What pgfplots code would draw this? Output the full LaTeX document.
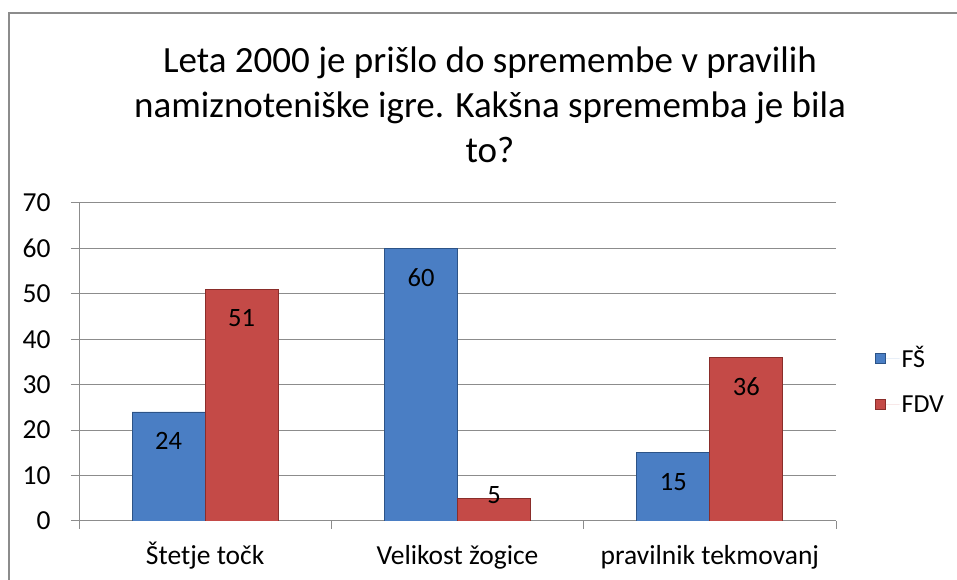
\documentclass[border=0pt]{standalone}
\usepackage{pgfplots}
\pgfplotsset{compat=1.18}
\usepackage{fontspec}
\setmainfont{Carlito}
\definecolor{gridgray}{HTML}{8C8C8C}
\definecolor{bluefill}{HTML}{4A7EC4}
\definecolor{blueedge}{HTML}{2C5387}
\definecolor{redfill}{HTML}{C44A47}
\definecolor{rededge}{HTML}{8A2D2A}
\begin{document}
\begin{tikzpicture}[x=1bp,y=1bp]
\useasboundingbox (0,0) rectangle (957,580);
\draw[gridgray, line width=1.5bp] (9,0) -- (9,567) -- (957,567);
\node[align=center, font=\fontsize{37bp}{45bp}\selectfont] at (490,475)
  {Leta 2000 je prišlo do spremembe v pravilih\\namiznoteniške igre. Kakšna sprememba je bila\\to?};
\begin{axis}[
  at={(79bp,59bp)}, anchor=south west,
  scale only axis, width=757bp, height=318bp,
  ymin=0, ymax=70, xmin=-0.5, xmax=2.5,
  ybar=0pt, bar width=73bp,
  axis x line*=bottom, axis y line*=left,
  axis line style={draw=gridgray, line width=1bp},
  ymajorgrids, grid style={draw=gridgray, line width=1bp},
  ytick={0,10,...,70},
  xtick={-0.5,0.5,1.5,2.5}, xticklabels={},
  extra x ticks={0,1,2},
  extra x tick labels={Štetje točk, Velikost žogice, pravilnik tekmovanj},
  extra x tick style={major tick length=0bp, xticklabel style={anchor=base, yshift=-44bp}},
  tick align=outside,
  major tick length=8bp,
  tick style={draw=gridgray, line width=1bp},
  ticklabel style={font=\fontsize{27.5bp}{32bp}\selectfont},
  /pgf/number format/assume math mode=true,
  yticklabel style={xshift=-17bp},
  nodes near coords,
  visualization depends on={rawy \as \ry},
  every node near coord/.append style={anchor=center, font=\fontsize{26.5bp}{30bp}\selectfont, yshift={max(-29,26-4.543*\ry)}},
  legend cell align=left,
  legend style={at={(1,0.443)}, anchor=west, xshift=36bp, draw=none, fill=none,
    font=\fontsize{26bp}{30bp}\selectfont, row sep=22bp},
]
\addplot[fill=bluefill, draw=blueedge, line width=0.8bp,
  legend image code/.code={\fill[bluefill, draw=blueedge] (0bp,-5bp) rectangle (10bp,5bp); \path[draw=none] (0bp,0bp) -- (24bp,0bp);}]
  coordinates {(0,24) (1,60) (2,15)};
\addlegendentry{FŠ}
\addplot[fill=redfill, draw=rededge, line width=0.8bp,
  legend image code/.code={\fill[redfill, draw=rededge] (0bp,-5bp) rectangle (10bp,5bp); \path[draw=none] (0bp,0bp) -- (24bp,0bp);}]
  coordinates {(0,51) (1,5) (2,36)};
\addlegendentry{FDV}
\end{axis}
\end{tikzpicture}
\end{document}
